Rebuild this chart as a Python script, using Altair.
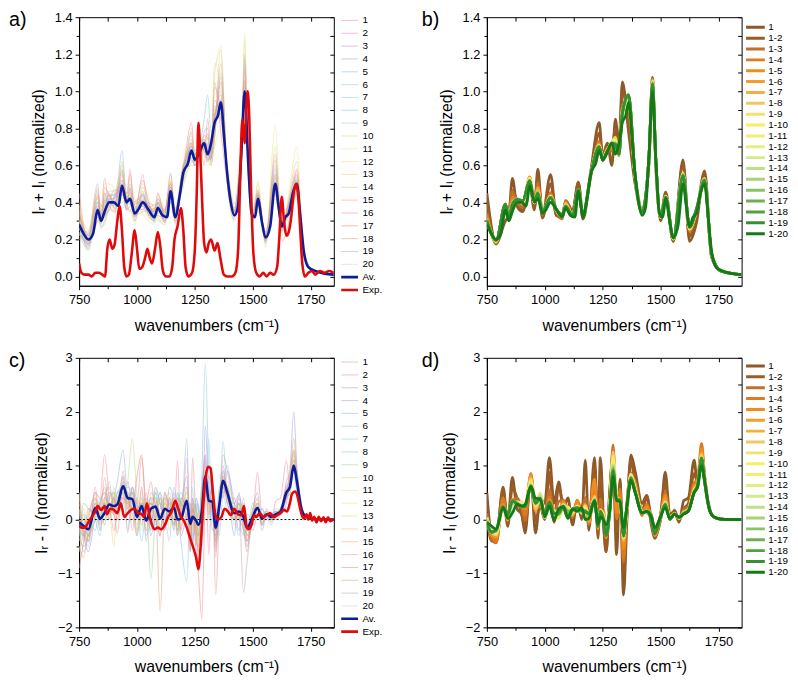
import altair as alt
import numpy as np
import pandas as pd

FONT = "Liberation Sans"

# ================= Row 1 : I_R + I_L (normalized) =================
# Average spectrum (Av. in a, 1-20 in b)
WN_A_AV = [750, 770, 790, 810, 830, 845, 860, 880, 900, 920, 935, 955, 970, 990, 1005, 1025, 1050, 1075, 1090, 1110,
           1130, 1145, 1165, 1185, 1200, 1220, 1235, 1250, 1270, 1290, 1305, 1320, 1335, 1350, 1362, 1377, 1390, 1405,
           1420, 1435, 1450, 1465, 1480, 1495, 1510, 1522, 1540, 1555, 1575, 1597, 1612, 1625, 1640, 1655, 1675, 1690,
           1705, 1720, 1740, 1770, 1810, 1850]
AV_A = [.28, .23, .20, .23, .36, .30, .35, .40, .40, .38, .49, .40, .42, .34, .36, .40, .36, .32, .37, .33,
        .32, .46, .32, .44, .56, .61, .68, .63, .67, .72, .66, .72, .83, .87, .94, .74, .55, .40,
        .33, .37, .65, 1.00, .62, .34, .32, .42, .29, .21, .27, .50, .37, .27, .32, .34, .46, .50,
        .33, .14, .05, .03, .015, .01]

# Experimental spectrum (Exp.)
WN_A_EXP = [750, 760, 775, 790, 805, 820, 835, 850, 862, 872, 882, 893, 903, 915, 925, 935, 945, 955, 965, 977,
            990, 1000, 1010, 1022, 1035, 1045, 1055, 1065, 1078, 1090, 1100, 1112, 1125, 1140, 1152, 1162, 1175, 1190,
            1200, 1210, 1222, 1238, 1250, 1258, 1265, 1272, 1280, 1290, 1300, 1310, 1320, 1335, 1348, 1360, 1375, 1390,
            1410, 1425, 1437, 1445, 1455, 1465, 1472, 1478, 1485, 1493, 1503, 1515, 1530, 1545, 1560, 1575, 1590, 1605,
            1615, 1625, 1635, 1645, 1655, 1665, 1677, 1687, 1697, 1705, 1713, 1725, 1740, 1755, 1770, 1790, 1810, 1830,
            1850]
EXP_A = [.07, .02, .01, .01, .00, .02, .02, .01, .00, .15, .20, .15, .17, .30, .38, .25, .05, .00, .01, .12,
         .25, .15, .04, .05, .10, .15, .10, .07, .15, .24, .17, .03, .00, .00, .05, .20, .27, .37,
         .25, .05, .00, .02, .15, .45, .83, .70, .45, .18, .13, .18, .20, .14, .18, .10, .01, .00,
         .00, .02, .15, .50, .85, .72, .92, 1.00, .85, .45, .12, .02, .00, .02, .00, .02, .01, .05,
         .22, .43, .30, .22, .24, .31, .45, .50, .42, .25, .08, .00, .02, .03, .01, .03, .02, .03,
         .02]

# Individual spectra 1..20
WN_A = [750, 790, 830, 845, 860, 880, 905, 935, 955, 970, 990, 1025, 1050, 1075, 1090, 1120, 1145, 1165, 1200, 1235,
        1250, 1270, 1290, 1305, 1320, 1335, 1362, 1390, 1420, 1450, 1465, 1480, 1500, 1522, 1555, 1597, 1625, 1655,
        1690, 1720, 1760, 1850]
A01 = [.45, .18, .30, .33, .53, .38, .35, .50, .36, .58, .33, .55, .33, .33, .40, .35, .51, .31, .58, .83, .65, .72, .60, .85, .70, 1.05, .78, .50, .35, .62, 1.03, .60, .30, .44, .19, .63, .19, .29, .57, .11, .03, .01]
A02 = [.36, .17, .44, .38, .40, .44, .36, .55, .38, .48, .30, .45, .33, .30, .42, .36, .50, .36, .52, .72, .60, .62, .76, .75, .62, .95, .85, .58, .37, .60, 1.12, .55, .35, .47, .19, .58, .24, .40, .55, .10, .03, .01]
A03 = [.22, .22, .32, .28, .45, .38, .42, .44, .45, .47, .38, .36, .40, .30, .40, .29, .40, .35, .60, .64, .66, .70, .68, .62, .70, .78, 1.05, .52, .31, .70, .92, .66, .33, .38, .24, .45, .30, .33, .46, .14, .03, .01]
A04 = [.30, .15, .40, .34, .32, .42, .45, .52, .42, .40, .33, .42, .38, .34, .35, .34, .44, .30, .54, .70, .65, .74, .70, .66, .64, .88, .90, .56, .36, .62, 1.20, .58, .30, .45, .18, .55, .25, .38, .52, .11, .03, .01]
A05 = [.25, .24, .50, .32, .38, .44, .38, .68, .42, .45, .36, .38, .34, .36, .40, .30, .48, .36, .58, .66, .62, .65, .78, .80, .60, .75, 1.10, .54, .35, .68, .88, .64, .34, .40, .22, .46, .29, .35, .48, .13, .03, .01]
A06 = [.32, .19, .34, .26, .30, .38, .43, .46, .36, .50, .40, .44, .38, .33, .42, .33, .42, .34, .55, .74, .66, .69, .74, .64, .70, .90, .88, .57, .33, .63, 1.15, .60, .31, .44, .20, .52, .27, .37, .53, .12, .03, .01]
A07 = [.20, .21, .38, .30, .42, .40, .40, .58, .42, .41, .32, .46, .35, .29, .36, .31, .47, .31, .53, .66, .60, .63, .70, .72, .64, .84, 1.00, .53, .37, .66, .95, .62, .33, .41, .23, .60, .26, .34, .49, .12, .03, .01]
A08 = [.27, .16, .42, .33, .36, .44, .44, .50, .39, .39, .37, .38, .37, .33, .34, .35, .49, .35, .57, .70, .68, .71, .85, .98, .78, .80, .96, .52, .34, .64, 1.05, .63, .32, .43, .21, .48, .28, .39, .51, .13, .03, .01]
A09 = [.33, .23, .36, .31, .33, .42, .37, .47, .41, .44, .34, .41, .34, .31, .38, .33, .45, .32, .59, .67, .62, .66, .70, .66, .63, .86, .92, .56, .35, .67, .98, .61, .32, .42, .20, .53, .26, .36, .50, .12, .03, .01]
A10 = [.24, .14, .30, .30, .44, .46, .46, .60, .36, .36, .30, .48, .40, .38, .32, .28, .52, .36, .50, .62, .64, .72, .74, .70, .68, 1.10, 1.22, .50, .30, .58, 1.28, .56, .28, .50, .16, .70, .22, .42, .62, .16, .03, .01]
A11 = [.38, .25, .48, .34, .30, .36, .34, .42, .44, .52, .42, .34, .30, .28, .44, .38, .38, .28, .62, .76, .64, .60, .68, .60, .62, .70, .80, .60, .40, .72, .80, .70, .36, .35, .26, .40, .32, .30, .42, .10, .03, .01]
A12 = [.31, .18, .45, .36, .50, .50, .48, .56, .44, .44, .28, .50, .42, .36, .30, .30, .55, .40, .48, .80, .62, .66, .76, .74, .70, 1.15, 1.00, .58, .36, .60, 1.32, .58, .30, .52, .18, .82, .24, .44, .70, .14, .03, .01]
A13 = [.26, .21, .35, .27, .28, .38, .41, .40, .43, .48, .38, .37, .32, .31, .41, .34, .40, .30, .58, .60, .60, .73, .68, .64, .60, .74, 1.25, .50, .31, .68, .85, .66, .34, .36, .23, .42, .29, .32, .44, .11, .03, .01]
A14 = [.40, .19, .38, .32, .42, .45, .35, .62, .40, .35, .40, .43, .38, .36, .36, .29, .46, .37, .55, .66, .63, .64, .72, .70, .66, .92, .86, .56, .39, .66, 1.10, .62, .33, .45, .20, .56, .30, .36, .54, .12, .03, .01]
A15 = [.21, .23, .43, .29, .38, .42, .47, .45, .40, .46, .33, .35, .36, .39, .39, .35, .50, .32, .60, .72, .64, .70, .72, .68, .64, .76, 1.08, .54, .33, .64, .94, .64, .33, .39, .22, .47, .25, .38, .47, .13, .03, .01]
A16 = [.36, .17, .33, .30, .48, .44, .39, .52, .45, .55, .36, .52, .40, .33, .33, .31, .44, .35, .54, .78, .62, .62, .70, .77, .66, 1.02, .90, .55, .36, .61, 1.18, .60, .32, .46, .19, .66, .27, .40, .58, .12, .03, .01]
A17 = [.28, .20, .47, .30, .33, .36, .44, .48, .36, .38, .39, .41, .38, .35, .45, .33, .56, .29, .57, .63, .60, .68, .70, .63, .64, .86, .98, .55, .35, .69, .90, .64, .33, .40, .24, .44, .31, .33, .45, .12, .03, .01]
A18 = [.34, .22, .36, .30, .41, .40, .40, .57, .41, .43, .32, .39, .35, .37, .35, .36, .43, .34, .53, .71, .64, .75, .72, .71, .66, .80, 1.15, .56, .34, .62, 1.06, .62, .32, .44, .21, .54, .26, .37, .52, .13, .03, .01]
A19 = [.23, .18, .40, .30, .35, .41, .43, .50, .42, .41, .35, .44, .36, .32, .38, .30, .48, .33, .59, .69, .62, .65, .72, .67, .65, .85, .95, .55, .33, .66, .97, .62, .33, .42, .20, .51, .28, .35, .50, .12, .03, .01]
A20 = [.30, .20, .37, .32, .37, .40, .39, .47, .42, .42, .34, .40, .37, .33, .37, .33, .46, .33, .56, .67, .63, .66, .73, .69, .66, .83, .93, .55, .34, .65, 1.01, .61, .32, .41, .21, .49, .27, .36, .49, .12, .03, .01]
LINES_A = [A01, A02, A03, A04, A05, A06, A07, A08, A09, A10, A11, A12, A13, A14, A15, A16, A17, A18, A19, A20]

# ================= Row 2 : I_R - I_L (normalized) =================
WN_C_EXP = [750, 760, 775, 790, 805, 820, 830, 845, 860, 870, 885, 900, 915, 930, 945, 960, 975, 990, 1005, 1020,
            1030, 1043, 1055, 1065, 1075, 1090, 1105, 1120, 1135, 1150, 1165, 1178, 1190, 1200, 1215, 1230, 1245, 1255,
            1265, 1275, 1285, 1297, 1307, 1318, 1328, 1338, 1350, 1365, 1378, 1392, 1405, 1420, 1435, 1450, 1462, 1472,
            1482, 1495, 1505, 1515, 1530, 1545, 1560, 1575, 1590, 1605, 1620, 1635, 1648, 1660, 1670, 1682, 1692, 1702,
            1712, 1722, 1732, 1740, 1748, 1756, 1765, 1775, 1785, 1795, 1805, 1815, 1825, 1835, 1850]
EXP_C = [-.10, -.15, -.15, -.05, .05, .15, .25, .18, .25, .10, .20, .18, .12, .30, .05, .12, .18, .20, .12, .10,
         .05, .30, .05, -.10, -.18, -.15, -.18, -.10, .05, .15, .35, .20, .05, .00, -.15, -.35, -.55, -.70,
         -.92, -.50, .20, .80, .98, .95, .50, .10, .00, .05, .20, .15, .08, .20, .10, .08, .25, -.10,
         -.18, -.10, .08, .05, .12, .05, .08, .12, .05, .08, .12, .18, .15, .30, .48, .52, .45, .25,
         .08, .02, .10, .00, .12, -.02, .05, -.05, .05, -.03, .04, -.05, .04, -.03, .02]

WN_C = [750, 770, 790, 820, 840, 860, 880, 900, 915, 940, 960, 980, 1000, 1020, 1040, 1060, 1080, 1100, 1120, 1140,
        1160, 1175, 1190, 1215, 1230, 1240, 1255, 1265, 1280, 1295, 1310, 1325, 1340, 1355, 1372, 1390, 1420, 1440,
        1460, 1475, 1500, 1520, 1540, 1560, 1580, 1600, 1620, 1645, 1660, 1677, 1690, 1710, 1730, 1760, 1850]
AV_C = [-.05, -.12, -.18, .22, .02, .12, .28, .25, .28, .62, .40, .38, .05, .25, -.02, .20, .24, .02, .20, .15,
        .22, .00, .02, .35, -.08, .05, -.02, -.10, .15, .80, .35, .33, -.15, .25, .72, .50, .12, .15,
        .05, -.15, .05, .22, .02, .10, .05, .10, .15, .50, .60, 1.00, .72, .20, .05, .01, .00]
C01 = [.50, -.30, -.40, .60, -.05, .78, .20, .10, -.25, .80, -.25, .40, .30, 1.15, .30, .70, .20, .40, -.10, .35, .00, 1.10, -.20, 1.15, -.20, 1.15, -.10, -.60, .50, 1.20, -.65, .75, -1.40, .00, 1.20, .90, .30, .45, .00, -.30, .00, .88, .10, .15, -.05, .35, .40, 1.10, .60, 1.25, .80, .20, .05, .01, .00]
C02 = [-.35, -.50, -.30, .50, -.20, .40, .60, .10, .00, .90, .20, .10, -.30, .60, -.40, .50, .30, -.30, .50, .10, .50, -.30, .20, .80, -.50, .40, -.30, -.60, .40, 1.20, .20, .60, -.60, .40, 1.00, .30, .00, .40, -.20, -.40, .20, .50, -.10, .20, .00, .05, .20, .60, .80, 1.30, .60, .20, .05, .01, .00]
C03 = [.20, -.30, -.60, .10, .30, -.10, .40, .50, .20, .40, .70, .20, .30, -.10, .30, -.20, .60, .30, .00, .40, -.10, .40, -.30, .10, .30, -.40, .40, .20, -.30, 1.75, .50, .20, -.40, .50, .40, .90, .30, -.20, .30, .00, -.20, .10, .20, .00, .10, .15, .10, .30, .70, 1.10, .90, .25, .05, .01, .00]
C04 = [-.20, .10, -.40, .40, -.10, .30, .10, .50, .40, .80, .10, .60, .20, .00, .40, -.30, .10, .50, -.20, .60, .30, -.30, .40, .20, .10, -.50, .30, -.30, .50, 1.10, .00, .70, -.50, .30, .70, .60, -.30, .50, -.10, -.50, .10, .40, -.20, .10, .10, .00, .10, .70, .90, 2.00, 1.00, .30, .05, .01, .00]
C05 = [.10, -.40, .00, -.20, .30, .50, .20, .40, .70, 1.30, .40, .50, -.30, .20, .30, -.10, .50, -.20, .40, .30, -.20, .50, .00, 1.50, -.60, .30, .20, -.40, .50, .90, .60, -.20, .20, .10, .90, .30, .30, .00, .20, -.30, .10, .30, .00, .15, .05, .10, .20, .40, .50, .90, .60, .15, .05, .01, .00]
C06 = [-.40, .30, .20, .00, -.30, .40, .20, .10, .50, .50, -.20, .60, .30, -.40, .20, .30, -.20, .40, .10, -.40, .60, .20, -.40, -1.15, .20, -.30, .40, .20, -.50, .40, 1.50, .00, .30, -.30, .60, 1.00, .10, -.30, .40, -.20, .30, .10, .20, .05, -.10, .15, .10, .40, .60, .80, .50, .20, .05, .01, .00]
C07 = [.30, -.20, -.50, .30, .10, .00, .50, .40, .10, .70, .30, .20, .10, .40, -.30, .00, .50, .30, -.10, .40, .00, .30, .50, .20, -.30, .60, -.50, .30, -.40, .60, .40, .30, -.20, .60, .50, .20, .40, .00, -.30, .10, .00, .10, -.10, .10, .05, .20, .15, .40, .40, 1.20, .80, .20, .05, .01, .00]
C08 = [-.10, -.60, -.30, .00, .40, .20, .10, .30, .50, .60, .50, .30, -.20, .30, .20, .40, -.10, .20, .40, .00, .30, -.20, .30, .60, .00, .20, -.20, -.30, .80, 2.90, .90, .10, -.30, .20, 1.45, .40, .10, .30, .00, .00, -.10, .20, .10, .05, .00, .10, .20, .50, .70, 1.00, .70, .20, .05, .01, .00]
C09 = [.00, -.30, .10, .40, -.20, .30, .70, .20, .40, .50, .60, .50, .00, .30, .20, -1.10, .10, .50, .20, .30, -.20, .50, .30, .20, .00, .10, .30, -.30, .30, .50, .40, .60, .00, .40, .80, .40, .20, .10, .20, -.20, .00, .30, .00, .10, .10, .05, .15, .45, .60, .90, .70, .20, .05, .01, .00]
C10 = [-.30, .20, -.20, .10, .30, .50, .00, .60, .20, .30, .70, 1.50, .40, -.20, .40, .30, .60, -.20, .30, .50, .10, -.20, .40, .10, .30, -.20, .20, -.40, .20, .70, .30, .20, -.40, .30, .60, .70, -.10, .30, .10, -.10, .10, .20, .10, .15, .00, .10, .15, .55, .70, 1.10, .80, .25, .05, .01, .00]
C11 = [.50, .00, -.40, .30, .20, .10, .40, .30, .00, .50, .10, .30, -.20, .50, .10, .00, .40, .10, .40, .00, .30, .10, -.10, .50, -.20, .30, .00, -.20, .10, .60, .20, .50, -.20, .30, .70, .50, .20, .00, .30, -.10, .10, .40, .00, .10, .05, .05, .10, .40, .50, 1.00, .60, .20, .05, .01, .00]
C12 = [.20, -.40, -.10, .20, .00, .30, .20, .50, .30, .80, .30, .40, .10, .20, .00, .40, .20, -.10, .10, .40, .10, .20, .00, .30, .10, .00, -.20, .00, .30, .80, .40, .40, -.10, .20, .70, .40, .10, .20, .00, -.20, .00, .20, .00, .10, .05, .10, .20, .50, .60, 1.25, .70, .20, .05, .01, .00]
C13 = [-.60, -.20, .10, .40, -.10, .00, .20, -.50, .30, .40, .20, .60, -.30, .40, .10, .20, .00, .40, .30, -.20, .40, -.30, .20, .50, -.40, .20, .10, -.50, .60, .50, .30, .30, -.20, .50, .80, .50, .00, .10, .10, -.30, .00, .30, -.10, .10, .05, .10, .10, .40, .50, .90, .60, .20, .05, .01, .00]
C14 = [.40, -.10, -.30, .00, .20, .40, .30, .10, .50, .60, .40, .00, .20, .30, -.20, .10, .40, .00, .20, .30, .00, .30, .20, .00, .20, -.10, -.30, .10, .00, 1.00, .10, .40, -.10, .30, .60, .40, .40, .20, .20, -.40, .10, .20, .10, .05, .10, .10, .20, .50, .70, 1.30, .80, .25, .05, .01, .00]
C15 = [-.50, -.70, -.20, .30, .00, .20, .50, .30, .00, .70, .30, .20, -.10, .60, -.20, .30, .20, .00, .30, .20, .40, -.10, .10, .40, -.50, .10, -.10, -.80, .20, .60, .50, .10, -.30, .30, .60, .30, .10, .30, -.10, -.20, .10, .30, -.05, .10, .05, .10, .15, .40, .60, 1.00, .60, .20, .05, .01, .00]
C16 = [-.20, -.30, .00, .50, .40, 1.20, .40, -.20, .10, .30, .50, -.20, .40, .10, .50, .00, .20, .30, -.20, .40, .20, .30, -.20, .60, .00, .40, -.20, -.30, .60, .60, .10, .60, -.40, .20, .90, .50, .00, .20, .10, -.20, .00, .20, .00, .10, .00, .10, .20, .60, .70, 1.10, .70, .20, .05, .01, .00]
C17 = [-.90, -.40, .20, .10, .30, .60, .20, .40, .10, .50, .40, .20, .80, 1.20, .10, .30, .00, -.30, .50, .20, -.10, .40, .30, .00, -.60, .20, -.60, -1.00, -1.85, .40, .80, .50, -.20, .30, .80, .60, .10, .00, .20, -.40, .00, .20, -.10, .10, .00, .05, .10, .40, .60, 1.00, .70, .20, .05, .01, .00]
C18 = [.20, -.20, -.40, .30, .10, .30, .00, .40, .20, .60, .20, .50, .20, .30, .00, .40, .30, -1.70, .20, .10, .30, -.20, .40, .20, -.20, .30, -.40, -.50, .20, .70, .30, .40, -.70, .30, .60, .40, .20, .00, -.20, -.60, .20, .20, .00, .10, .05, .15, .15, .50, .80, 1.50, .90, .20, .05, .01, .00]
C19 = [-.10, .00, -.30, .20, .20, .10, .30, .20, .30, .40, .30, .60, .00, .30, .10, .20, .40, .10, .20, .00, .30, .00, .10, .20, -.10, .20, .00, -.20, .30, .60, .30, .20, -.30, .30, .50, .60, .00, .30, -1.35, -.80, .00, .10, .00, .10, .05, .10, .20, .50, .60, 1.00, .70, .20, .05, .01, .00]
C20 = [.00, -.20, -.20, .20, .00, .20, .30, .20, .30, .50, .40, .40, .00, .30, .00, .20, .30, .00, .20, .10, .20, .00, .10, .30, -.10, .10, .00, -.10, .20, .70, .30, .30, -.10, .30, .70, .50, .10, .10, .00, -.20, .00, .20, .00, .10, .05, .10, .15, .50, .60, 1.00, .70, .20, .05, .01, .00]
LINES_C = [C01, C02, C03, C04, C05, C06, C07, C08, C09, C10, C11, C12, C13, C14, C15, C16, C17, C18, C19, C20]

# ================= labels, ticks, colours =================
SERIES_LABELS = [str(i) for i in range(1, 21)] + ["Av.", "Exp."]
SERIES_COLORS = ["#f08c96", "#e08cc0", "#b48ce0", "#9c9cdc", "#8cb4ec", "#8cc8f0", "#8cd4ec", "#7cd0cc",
                 "#9cd49c", "#c4dc84", "#ece88c", "#f0e47c", "#f0d470", "#f0bc7c", "#f0a48c", "#f0949c",
                 "#ec8484", "#d4a07c", "#c4a4b0", "#d0d0d0", "#0c1c9c", "#e00a0a"]
SERIES_OPACITY = [0.5] * 20 + [1.0, 1.0]
SERIES_WIDTH = [1.1] * 20 + [2.6, 2.6]

CUM_LABELS = ["1"] + ["1-%d" % k for k in range(2, 21)]
CUM_COLORS = ["#8c5a28", "#9a5c24", "#c0702c", "#e07a20", "#f08c1c", "#f59c2c", "#f2b040", "#f0c860",
              "#f2e070", "#f6f060", "#f0f070", "#e4ee80", "#d4e88c", "#c0e088", "#a8d274", "#8cc264",
              "#70b050", "#52a040", "#349030", "#147a18"]

X_DOMAIN = [750, 1850]
X_MAJOR = [750, 1000, 1250, 1500, 1750]
X_MINOR = [875, 1125, 1375, 1625]
Y_TOP_DOMAIN = [-0.05, 1.4]
Y_TOP_MAJOR = [0.0, 0.2, 0.4, 0.6, 0.8, 1.0, 1.2, 1.4]
Y_TOP_MINOR = [0.1, 0.3, 0.5, 0.7, 0.9, 1.1, 1.3]
Y_BOT_DOMAIN = [-2, 3]
Y_BOT_MAJOR = [-2, -1, 0, 1, 2, 3]
Y_BOT_MINOR = [-1.5, -0.5, 0.5, 1.5, 2.5]

TITLE_SUM = "I\u1d63 + I\u2097 (normalized)"
TITLE_DIFF = "I\u1d63 - I\u2097 (normalized)"
TITLE_X = "wavenumbers (cm\u207b\u00b9)"

W = 258


def long_df(x, named, col="s"):
    rows = []
    for lab, ys in named:
        for w, v in zip(x, ys):
            rows.append({"w": w, "v": float(v), col: lab})
    return pd.DataFrame(rows)


def xs():
    return alt.Scale(domain=X_DOMAIN, nice=False, zero=False)


def ysc(dom):
    return alt.Scale(domain=dom, nice=False, zero=False)


def main_axes(ymajor, yfmt, ytitle):
    xa = alt.Axis(orient="bottom", values=X_MAJOR, format="d", title=TITLE_X, tickSize=4,
                  labelPadding=4, titlePadding=11, labelFlush=False, labelOverlap=False, grid=False)
    ya = alt.Axis(orient="left", values=ymajor, format=yfmt, title=ytitle, tickSize=4,
                  labelPadding=3, titlePadding=8, labelFlush=False, labelOverlap=False, grid=False)
    return xa, ya


def frame_layers(df, ydom, ymajor, yminor):
    top_right = alt.Chart(df).mark_line(strokeOpacity=0).encode(
        x=alt.X("w:Q", scale=xs(), axis=alt.Axis(orient="top", values=X_MAJOR + X_MINOR, labels=False,
                                                 domain=False, title=None, tickSize=4, offset=-4, grid=False)),
        y=alt.Y("v:Q", scale=ysc(ydom), axis=alt.Axis(orient="right", values=ymajor + yminor, labels=False,
                                                      domain=False, title=None, tickSize=4, offset=-4, grid=False)),
    )
    minor = alt.Chart(df).mark_line(strokeOpacity=0).encode(
        x=alt.X("w:Q", scale=xs(), axis=alt.Axis(orient="bottom", values=X_MINOR, labels=False,
                                                 domain=False, title=None, tickSize=3, grid=False)),
        y=alt.Y("v:Q", scale=ysc(ydom), axis=alt.Axis(orient="left", values=yminor, labels=False,
                                                      domain=False, title=None, tickSize=3, grid=False)),
    )
    return [top_right, minor]


def tag_layer(tag, dx, dy):
    return alt.Chart(pd.DataFrame({"t": [tag]})).mark_text(
        align="left", baseline="middle", fontSize=20, font=FONT, color="black"
    ).encode(x=alt.value(dx), y=alt.value(dy), text="t:N")


def leg_indiv(ly):
    return alt.Legend(title=None, orient="none", legendX=W + 6, legendY=ly, symbolType="stroke", symbolSize=289,
                      labelFontSize=10, labelFont=FONT, rowPadding=0, clipHeight=12.6, labelOffset=3)


def leg_cum(ly):
    return alt.Legend(title=None, orient="none", legendX=W + 3, legendY=ly, symbolType="stroke", symbolSize=361,
                      symbolStrokeWidth=3, labelFontSize=10, labelFont=FONT, rowPadding=0, clipHeight=10.5,
                      labelOffset=2)


def indiv_enc(leg):
    return dict(
        color=alt.Color("s:N", scale=alt.Scale(domain=SERIES_LABELS, range=SERIES_COLORS), legend=leg),
        opacity=alt.Opacity("s:N", scale=alt.Scale(type="ordinal", domain=SERIES_LABELS, range=SERIES_OPACITY),
                            legend=leg),
        strokeWidth=alt.StrokeWidth("s:N", scale=alt.Scale(type="ordinal", domain=SERIES_LABELS,
                                                           range=SERIES_WIDTH), legend=leg),
    )


def indiv_panel(tag, lines, wn, av_x, av_y, exp_x, exp_y, ydom, ymajor, yminor, yfmt, ytitle, h, zero, ly):
    leg = leg_indiv(ly)
    indiv_df = long_df(wn, [(SERIES_LABELS[i], lines[i]) for i in range(20)])
    av_df = long_df(av_x, [("Av.", av_y)])
    exp_df = long_df(exp_x, [("Exp.", exp_y)])
    xa, ya = main_axes(ymajor, yfmt, ytitle)
    layers = [
        alt.Chart(indiv_df).mark_line(interpolate="monotone", clip=True).encode(
            x=alt.X("w:Q", scale=xs(), axis=xa), y=alt.Y("v:Q", scale=ysc(ydom), axis=ya), **indiv_enc(leg))
    ]
    if zero:
        layers.append(alt.Chart(pd.DataFrame({"z": [0]})).mark_rule(
            color="black", strokeDash=[2, 2], strokeWidth=1).encode(
            y=alt.Y("z:Q", scale=ysc(ydom), axis=None)))
    for d in (av_df, exp_df):
        layers.append(alt.Chart(d).mark_line(interpolate="monotone", clip=True).encode(
            x=alt.X("w:Q", scale=xs(), axis=None), y=alt.Y("v:Q", scale=ysc(ydom), axis=None), **indiv_enc(leg)))
    layers += frame_layers(av_df, ydom, ymajor, yminor)
    layers.append(tag_layer(tag, -71, 3))
    return alt.layer(*layers).resolve_axis(x="independent", y="independent").properties(width=W, height=h)


def cum_panel(tag, lines, wn, av_x, av_y, ydom, ymajor, yminor, yfmt, ytitle, h, ly):
    arr = np.array(lines[:19], dtype=float)
    cum = np.cumsum(arr, axis=0) / np.arange(1, 20)[:, None]
    cum_df = long_df(wn, [(CUM_LABELS[k], cum[k]) for k in range(19)], col="k")
    fin_df = long_df(av_x, [("1-20", av_y)], col="k")
    xa, ya = main_axes(ymajor, yfmt, ytitle)
    col = alt.Color("k:N", scale=alt.Scale(domain=CUM_LABELS, range=CUM_COLORS), legend=leg_cum(ly))
    layers = [
        alt.Chart(cum_df).mark_line(interpolate="monotone", clip=True, strokeWidth=2.8).encode(
            x=alt.X("w:Q", scale=xs(), axis=xa), y=alt.Y("v:Q", scale=ysc(ydom), axis=ya), color=col),
        alt.Chart(fin_df).mark_line(interpolate="monotone", clip=True, strokeWidth=2.8).encode(
            x=alt.X("w:Q", scale=xs(), axis=None), y=alt.Y("v:Q", scale=ysc(ydom), axis=None), color=col),
    ]
    layers += frame_layers(fin_df, ydom, ymajor, yminor)
    layers.append(tag_layer(tag, -66, 3))
    return alt.layer(*layers).resolve_axis(x="independent", y="independent").properties(width=W, height=h)


pa = indiv_panel("a)", LINES_A, WN_A, WN_A_AV, AV_A, WN_A_EXP, EXP_A, Y_TOP_DOMAIN, Y_TOP_MAJOR, Y_TOP_MINOR,
                 ".1f", TITLE_SUM, 272, False, -3)
pb = cum_panel("b)", LINES_A, WN_A, WN_A_AV, AV_A, Y_TOP_DOMAIN, Y_TOP_MAJOR, Y_TOP_MINOR, ".1f", TITLE_SUM, 272, 5)
pc = indiv_panel("c)", LINES_C, WN_C, WN_C, AV_C, WN_C_EXP, EXP_C, Y_BOT_DOMAIN, Y_BOT_MAJOR, Y_BOT_MINOR,
                 "d", TITLE_DIFF, 273, True, -2)
pd_ = cum_panel("d)", LINES_C, WN_C, WN_C, AV_C, Y_BOT_DOMAIN, Y_BOT_MAJOR, Y_BOT_MINOR, "d", TITLE_DIFF, 273, 3)

RES = dict(color="independent", opacity="independent", strokeWidth="independent")

row1 = alt.hconcat(pa, pb, spacing=37).resolve_scale(**RES).resolve_legend(**RES)
row2 = alt.hconcat(pc, pd_, spacing=37).resolve_scale(**RES).resolve_legend(**RES)

chart = (
    alt.vconcat(row1, row2, spacing=16)
    .resolve_scale(**RES)
    .resolve_legend(**RES)
    .properties(padding={"left": 0, "top": -3, "right": 0, "bottom": 0}, background="white")
    .configure_view(stroke="black", strokeWidth=1)
    .configure_axis(labelFont=FONT, titleFont=FONT, labelFontSize=13, titleFontSize=16, titleFontWeight="normal",
                    labelColor="black", titleColor="black", domainColor="black", tickColor="black",
                    domainWidth=1, tickWidth=1, grid=False)
    .configure_legend(labelColor="black", labelFont=FONT)
)

chart.save("out.html", embed_options={"renderer": "svg", "actions": False})
